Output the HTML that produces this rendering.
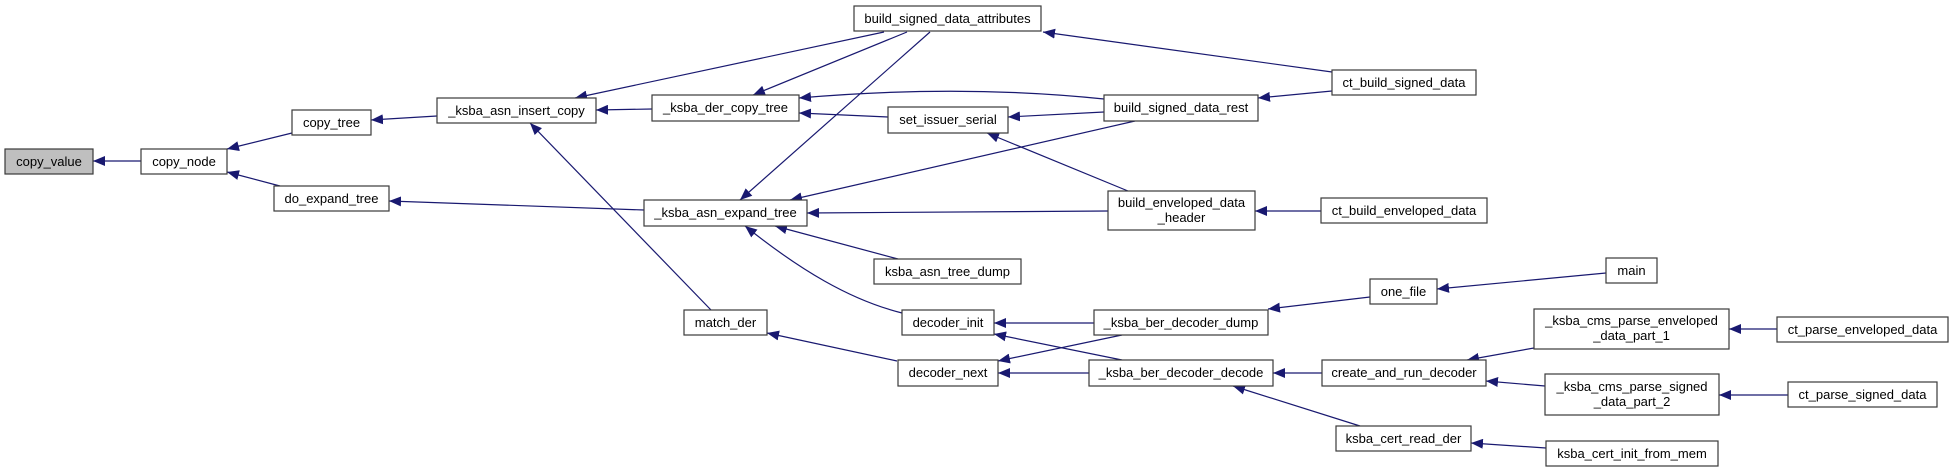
<!DOCTYPE html>
<html><head><meta charset="utf-8"><style>
html,body{margin:0;padding:0;background:#fff;}
svg{display:block;}
text{font-family:"Liberation Sans",Arial,sans-serif;font-size:13px;fill:#000;}
.b{fill:#fff;stroke:#3a3a3a;stroke-width:1.2;}
.e{fill:none;stroke:#191970;stroke-width:1.2;}
</style></head><body>
<svg width="1953" height="472" viewBox="0 0 1953 472" xmlns="http://www.w3.org/2000/svg">
<defs>
<marker id="a" markerUnits="userSpaceOnUse" markerWidth="14" markerHeight="10" refX="12" refY="5" orient="auto">
<polygon points="0,0 12,5 0,10" fill="#191970"/>
</marker>
</defs>
<g class="edges">
<path class="e" marker-end="url(#a)" d="M141,161 L93,161"/>
<path class="e" marker-end="url(#a)" d="M292,133 L227,149"/>
<path class="e" marker-end="url(#a)" d="M280,186 L227,172"/>
<path class="e" marker-end="url(#a)" d="M437,116 L371,120"/>
<path class="e" marker-end="url(#a)" d="M644,210 L389,201"/>
<path class="e" marker-end="url(#a)" d="M652,109 L596,110"/>
<path class="e" marker-end="url(#a)" d="M884,32 L575,98"/>
<path class="e" marker-end="url(#a)" d="M907,32 L753,95"/>
<path class="e" marker-end="url(#a)" d="M930,32 L740,200"/>
<path class="e" marker-end="url(#a)" d="M711,310 L530,123"/>
<path class="e" marker-end="url(#a)" d="M1104,99 Q960,84 799,98"/>
<path class="e" marker-end="url(#a)" d="M888,117 L799,113"/>
<path class="e" marker-end="url(#a)" d="M1104,112 L1008,117"/>
<path class="e" marker-end="url(#a)" d="M1135,121 L790,200"/>
<path class="e" marker-end="url(#a)" d="M1128,191 L987,133"/>
<path class="e" marker-end="url(#a)" d="M1108,211 L807,213"/>
<path class="e" marker-end="url(#a)" d="M898,259 L775,226"/>
<path class="e" marker-end="url(#a)" d="M902,313 C850,300 800,270 745,226"/>
<path class="e" marker-end="url(#a)" d="M1332,72 L1043,32"/>
<path class="e" marker-end="url(#a)" d="M1332,91 L1258,98"/>
<path class="e" marker-end="url(#a)" d="M1321,211 L1255,211"/>
<path class="e" marker-end="url(#a)" d="M897,361 L767,333"/>
<path class="e" marker-end="url(#a)" d="M1094,323 L994,323"/>
<path class="e" marker-end="url(#a)" d="M1122,360 L994,334"/>
<path class="e" marker-end="url(#a)" d="M1122,335 L998,361"/>
<path class="e" marker-end="url(#a)" d="M1089,373 L998,373"/>
<path class="e" marker-end="url(#a)" d="M1370,297 L1268,309"/>
<path class="e" marker-end="url(#a)" d="M1606,273 L1437,289"/>
<path class="e" marker-end="url(#a)" d="M1322,373 L1273,373"/>
<path class="e" marker-end="url(#a)" d="M1360,426 L1233,386"/>
<path class="e" marker-end="url(#a)" d="M1534,348 L1467,360"/>
<path class="e" marker-end="url(#a)" d="M1545,386 L1486,381"/>
<path class="e" marker-end="url(#a)" d="M1777,329 L1729,329"/>
<path class="e" marker-end="url(#a)" d="M1788,395 L1719,395"/>
<path class="e" marker-end="url(#a)" d="M1546,448 L1471,443"/>
</g>
<g class="nodes" text-anchor="middle">
<rect x="5" y="149" width="88" height="25" fill="#bfbfbf" stroke="#3a3a3a" stroke-width="1.2"/><text x="49" y="166">copy_value</text>
<rect class="b" x="141" y="149" width="86" height="25"/><text x="184" y="166">copy_node</text>
<rect class="b" x="292" y="110" width="79" height="25"/><text x="331.5" y="127">copy_tree</text>
<rect class="b" x="274" y="186" width="115" height="25"/><text x="331.5" y="203">do_expand_tree</text>
<rect class="b" x="437" y="98" width="159" height="25"/><text x="516.5" y="115">_ksba_asn_insert_copy</text>
<rect class="b" x="652" y="95" width="147" height="26"/><text x="725.5" y="112">_ksba_der_copy_tree</text>
<rect class="b" x="854" y="6" width="187" height="25"/><text x="947.5" y="23">build_signed_data_attributes</text>
<rect class="b" x="888" y="107" width="120" height="26"/><text x="948" y="124">set_issuer_serial</text>
<rect class="b" x="644" y="200" width="163" height="26"/><text x="725.5" y="217">_ksba_asn_expand_tree</text>
<rect class="b" x="874" y="259" width="147" height="25"/><text x="947.5" y="276">ksba_asn_tree_dump</text>
<rect class="b" x="684" y="310" width="83" height="25"/><text x="725.5" y="327">match_der</text>
<rect class="b" x="902" y="310" width="92" height="25"/><text x="948" y="327">decoder_init</text>
<rect class="b" x="898" y="360" width="100" height="26"/><text x="948" y="377">decoder_next</text>
<rect class="b" x="1104" y="95" width="154" height="26"/><text x="1181" y="112">build_signed_data_rest</text>
<rect class="b" x="1332" y="70" width="144" height="25"/><text x="1404" y="87">ct_build_signed_data</text>
<rect class="b" x="1108" y="191" width="147" height="39"/><text x="1181.5" y="207">build_enveloped_data</text><text x="1181.5" y="222">_header</text>
<rect class="b" x="1321" y="198" width="166" height="25"/><text x="1404" y="215">ct_build_enveloped_data</text>
<rect class="b" x="1094" y="310" width="174" height="25"/><text x="1181" y="327">_ksba_ber_decoder_dump</text>
<rect class="b" x="1370" y="279" width="67" height="25"/><text x="1403.5" y="296">one_file</text>
<rect class="b" x="1089" y="360" width="184" height="26"/><text x="1181" y="377">_ksba_ber_decoder_decode</text>
<rect class="b" x="1322" y="360" width="164" height="26"/><text x="1404" y="377">create_and_run_decoder</text>
<rect class="b" x="1336" y="426" width="135" height="25"/><text x="1403.5" y="443">ksba_cert_read_der</text>
<rect class="b" x="1606" y="258" width="51" height="25"/><text x="1631.5" y="275">main</text>
<rect class="b" x="1534" y="309" width="195" height="40"/><text x="1631.5" y="325">_ksba_cms_parse_enveloped</text><text x="1631.5" y="340">_data_part_1</text>
<rect class="b" x="1777" y="317" width="171" height="25"/><text x="1862.5" y="334">ct_parse_enveloped_data</text>
<rect class="b" x="1545" y="374" width="174" height="41"/><text x="1632" y="391">_ksba_cms_parse_signed</text><text x="1632" y="406">_data_part_2</text>
<rect class="b" x="1788" y="382" width="149" height="25"/><text x="1862.5" y="399">ct_parse_signed_data</text>
<rect class="b" x="1546" y="441" width="172" height="25"/><text x="1632" y="458">ksba_cert_init_from_mem</text>
</g>
</svg>
</body></html>
